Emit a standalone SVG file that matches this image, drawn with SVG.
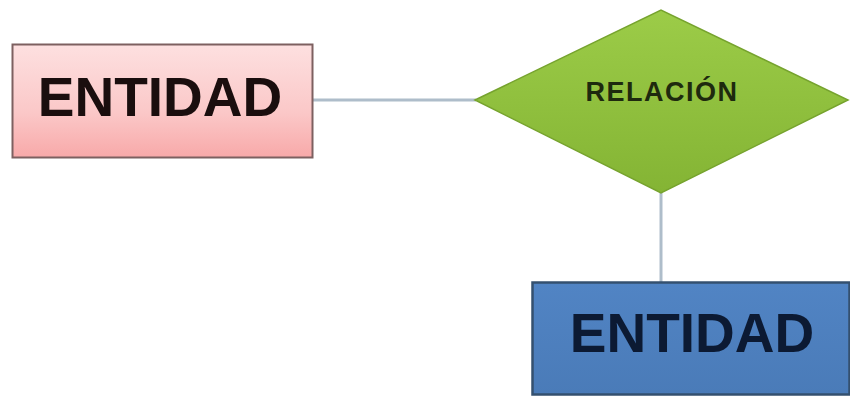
<svg xmlns="http://www.w3.org/2000/svg" width="850" height="398" viewBox="0 0 850 398">
<defs>
<linearGradient id="gPink" x1="0" y1="0" x2="0" y2="1">
<stop offset="0" stop-color="#fde0e0"/>
<stop offset="0.6" stop-color="#fbc8c8"/>
<stop offset="1" stop-color="#f8a9a9"/>
</linearGradient>
<linearGradient id="gGreen" x1="0" y1="0" x2="0" y2="1">
<stop offset="0" stop-color="#9ccc48"/>
<stop offset="1" stop-color="#84b434"/>
</linearGradient>
<linearGradient id="gBlue" x1="0" y1="0" x2="0" y2="1">
<stop offset="0" stop-color="#5184c4"/>
<stop offset="1" stop-color="#4a7bb8"/>
</linearGradient>
</defs>
<style>
.conn { stroke: #aebdca; stroke-width: 3; fill: none; }
.big { font-family: "Liberation Sans", Arial, sans-serif; font-weight: bold; font-size: 55px; text-anchor: middle; }
.small { font-family: "Liberation Sans", Arial, sans-serif; font-weight: bold; font-size: 27px; text-anchor: middle; letter-spacing: 1.5px; }
</style>
<rect width="850" height="398" fill="#ffffff"/>
<g id="connectors">
<line class="conn" x1="313" y1="100" x2="476" y2="100"/>
<line class="conn" x1="661" y1="193" x2="661" y2="283"/>
</g>
<g id="entidad1">
<rect x="12.5" y="44.5" width="300" height="113" fill="url(#gPink)" stroke="#7d6060" stroke-width="2"/>
<text class="big" x="160" y="116" fill="#1a0e0e">ENTIDAD</text>
</g>
<g id="relacion">
<polygon points="475,100 661,10 848,100 661,193" fill="url(#gGreen)" stroke="#76a32e" stroke-width="1.5"/>
<text class="small" x="662" y="101" fill="#1e2a0e">RELACIÓN</text>
</g>
<g id="entidad2">
<rect x="532.5" y="282.5" width="317" height="112" fill="url(#gBlue)" stroke="#34506f" stroke-width="2.5"/>
<text class="big" x="692" y="352" fill="#0c1a33">ENTIDAD</text>
</g>
</svg>
